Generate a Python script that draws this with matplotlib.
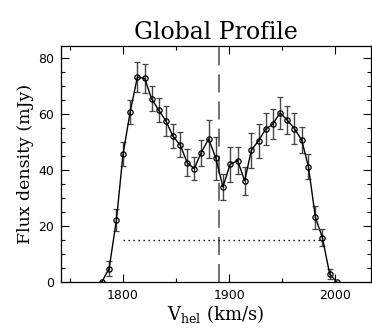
import matplotlib
matplotlib.use("Agg")
import matplotlib.pyplot as plt
from matplotlib.ticker import MultipleLocator

# channel velocities (km/s), flux (mJy) and 1-sigma errors
vel = [1780.3, 1787.2, 1794.1, 1800.3, 1807.0, 1813.8, 1820.7, 1827.2, 1833.8,
       1840.7, 1847.3, 1854.0, 1860.7, 1867.3, 1873.8, 1880.8, 1887.6, 1894.2,
       1901.0, 1908.0, 1914.7, 1921.0, 1927.8, 1934.4, 1941.0, 1947.9, 1954.5,
       1961.4, 1968.3, 1974.6, 1981.2, 1987.8, 1994.6, 2001.2]
flux = [0.0, 4.8, 22.1, 45.6, 60.7, 73.2, 72.7, 65.4, 61.4, 57.5, 52.0, 49.0,
        42.6, 40.5, 46.2, 51.1, 44.2, 34.0, 42.0, 43.4, 36.2, 47.1, 50.5, 54.6,
        56.3, 60.4, 57.9, 54.8, 50.7, 41.2, 23.1, 15.8, 2.9, 0.0]
err = [0.0, 2.7, 3.9, 4.3, 4.3, 5.5, 5.1, 4.5, 4.2, 5.3, 4.3, 4.4, 4.9, 4.2,
       4.6, 6.8, 7.7, 4.6, 6.3, 4.8, 5.0, 6.2, 6.1, 5.7, 5.4, 5.7, 5.1, 5.6,
       4.7, 4.5, 4.0, 3.1, 1.7, 0.0]

v_sys = 1891.0
w20_level = 15.0
w20_range = [1800.0, 1986.0]

LABEL_FONT = "DejaVu Serif"

fig = plt.figure(figsize=(3.72, 3.33), dpi=100)
ax = fig.add_axes([0.164, 0.153, 0.832, 0.709])

ax.axvline(v_sys, color="#666666", lw=1.3, dashes=(10, 5), zorder=1)
ax.plot(w20_range, [w20_level, w20_level], color="black", lw=1.0,
        linestyle=(0, (1, 2.6)), zorder=1)

ax.errorbar(vel, flux, yerr=err, fmt="none", ecolor="#444444", elinewidth=1.0,
            capsize=2.3, capthick=0.9, zorder=2)
ax.plot(vel, flux, color="black", lw=1.0, marker="o", markersize=3.8,
        markerfacecolor="none", markeredgecolor="black", markeredgewidth=0.9,
        zorder=3)

ax.set_xlim(1742, 2033)
ax.set_ylim(0, 84.3)
ax.xaxis.set_major_locator(MultipleLocator(100))
ax.xaxis.set_minor_locator(MultipleLocator(50))
ax.yaxis.set_major_locator(MultipleLocator(20))
ax.yaxis.set_minor_locator(MultipleLocator(5))
ax.tick_params(which="both", direction="in", top=True, right=True, width=0.8,
               labelsize=9, pad=5)
ax.tick_params(which="major", length=6)
ax.tick_params(which="minor", length=3)
for s in ax.spines.values():
    s.set_linewidth(0.9)

ax.set_title("Global Profile", family=LABEL_FONT, fontsize=17, pad=5)
ax.set_ylabel("Flux density (mJy)", family=LABEL_FONT, fontsize=12.5,
              labelpad=3)
ax.set_xlabel(r"V$_{\mathregular{hel}}$ (km/s)", family=LABEL_FONT,
              fontsize=13, labelpad=1)

fig.savefig("out.png", dpi=100)
